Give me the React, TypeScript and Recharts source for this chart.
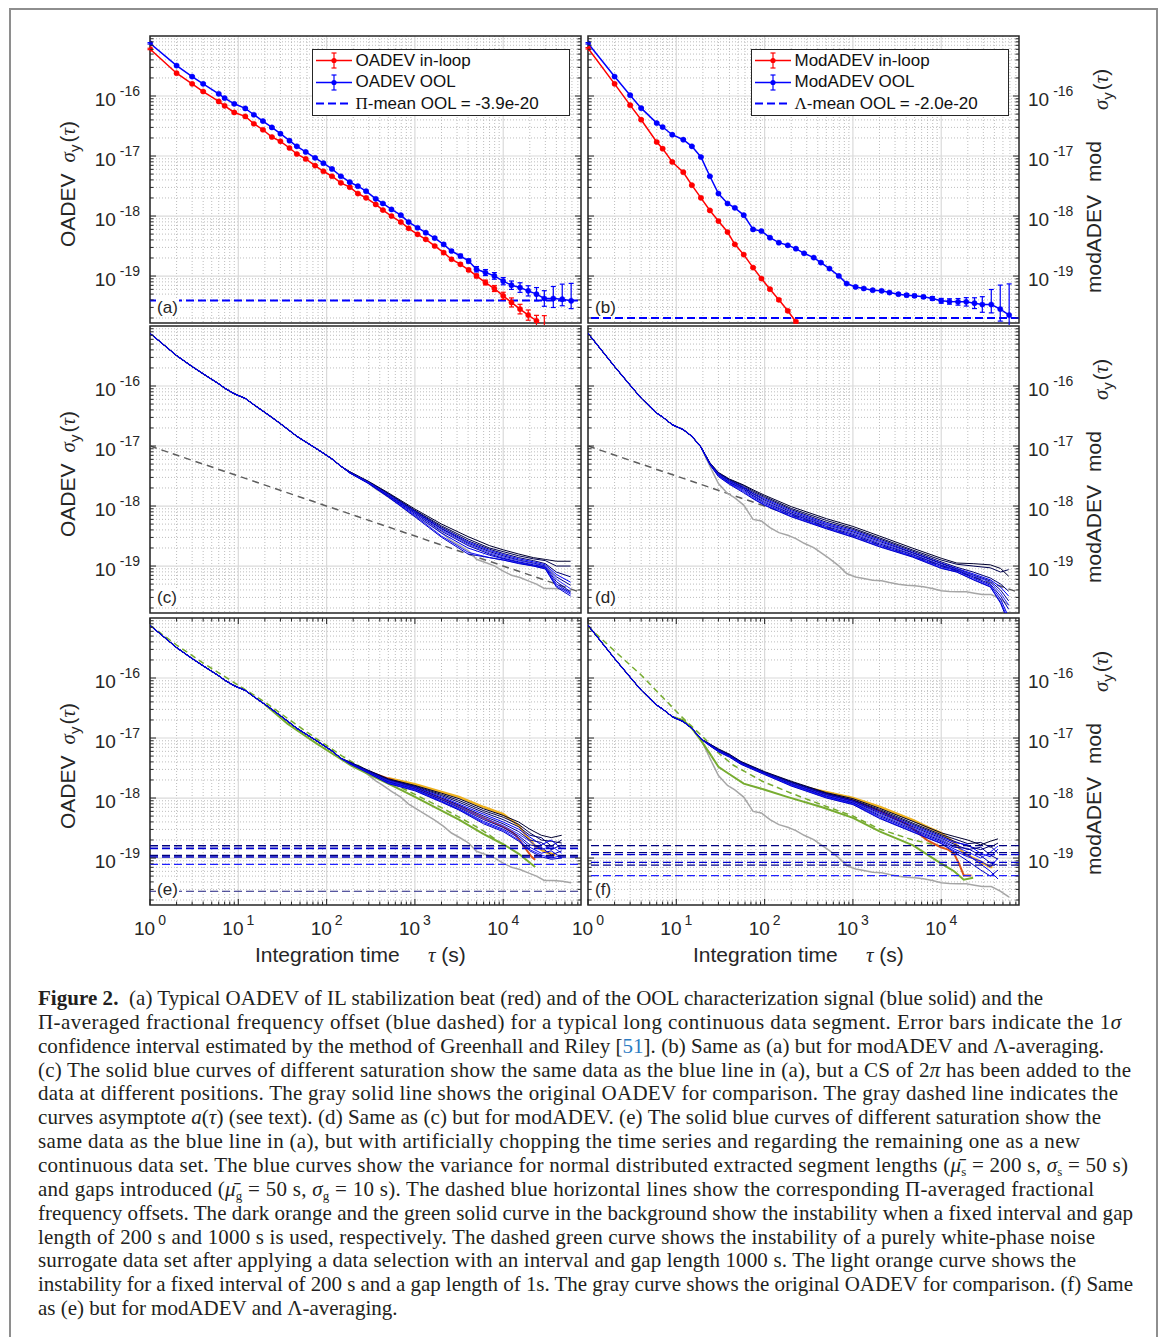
import React from "react";
import { LineChart, Line, XAxis, YAxis, CartesianGrid, ReferenceLine, ReferenceArea, ErrorBar } from "recharts";

const SANS = '"Liberation Sans", Arial, Helvetica, sans-serif';
const SERIF = '"Liberation Serif", "Times New Roman", serif';
const AX = "#262626";

// layout of the six axes boxes (page px)
const COL_X = [150, 588];
const ROW_Y = [36, 326, 618];
const PLOT_W = 431;
const PLOT_H = 287;

// axis ranges and ticks
const X_MIN = 1;
const X_MAX = 76000;
const Y_MIN = 1.65e-20;
const Y_MAX = 1e-15;
const MAJOR_X = [1, 10, 100, 1000, 10000];
const MAJOR_Y = [1e-19, 1e-18, 1e-17, 1e-16];
const MINOR_STEPS = [2, 3, 4, 5, 6, 7, 8, 9];
const DECADES_X = [1, 10, 100, 1000, 10000];
const DECADES_Y = [1e-20, 1e-19, 1e-18, 1e-17, 1e-16];
const MINOR_X = DECADES_X.flatMap((d) => MINOR_STEPS.map((m) => m * d)).filter((v) => v < X_MAX);
const MINOR_Y = DECADES_Y.flatMap((d) => MINOR_STEPS.map((m) => m * d)).filter((v) => v > Y_MIN);
const X_TICKS = [...MAJOR_X, ...MINOR_X].sort((a, b) => a - b);
const Y_TICKS = [...MAJOR_Y, ...MINOR_Y].sort((a, b) => a - b);

// ---- data (tau in s, sigma stored as log10) ----
const tauMarked = [1, 2, 3, 4, 6, 7, 9, 12, 15, 19, 24, 30, 38, 46, 58, 74, 92, 115, 145, 183, 226, 280, 360, 434, 543, 692, 849, 1072, 1327, 1675, 2115, 2595, 3275, 4057, 4980, 6290, 7940, 10000, 12400, 15500, 19200, 23800, 29200, 36900, 46600, 58800];

// (a) OADEV
const oadevOolExp = [-15.122, -15.493, -15.676, -15.797, -15.963, -16.035, -16.13, -16.207, -16.312, -16.417, -16.523, -16.628, -16.744, -16.838, -16.932, -17.03, -17.12, -17.215, -17.337, -17.436, -17.503, -17.586, -17.713, -17.791, -17.89, -17.985, -18.1, -18.195, -18.278, -18.367, -18.472, -18.583, -18.666, -18.749, -18.887, -18.942, -18.998, -19.086, -19.153, -19.192, -19.247, -19.302, -19.374, -19.374, -19.385, -19.413];
const oadevOolUp = [0.012, 0.012, 0.012, 0.012, 0.012, 0.012, 0.012, 0.012, 0.012, 0.012, 0.012, 0.012, 0.012, 0.012, 0.012, 0.012, 0.012, 0.012, 0.012, 0.012, 0.012, 0.012, 0.012, 0.012, 0.012, 0.012, 0.015, 0.015, 0.015, 0.015, 0.02, 0.02, 0.03, 0.035, 0.045, 0.05, 0.055, 0.06, 0.07, 0.08, 0.085, 0.11, 0.13, 0.2, 0.25, 0.29];
const oadevOolDn = [0.012, 0.012, 0.012, 0.012, 0.012, 0.012, 0.012, 0.012, 0.012, 0.012, 0.012, 0.012, 0.012, 0.012, 0.012, 0.012, 0.012, 0.012, 0.012, 0.012, 0.012, 0.012, 0.012, 0.012, 0.012, 0.012, 0.015, 0.015, 0.015, 0.015, 0.02, 0.02, 0.03, 0.035, 0.045, 0.05, 0.055, 0.06, 0.07, 0.08, 0.085, 0.11, 0.13, 0.15, 0.11, 0.13];
const oadevIlExp = [-15.216, -15.62, -15.797, -15.925, -16.091, -16.163, -16.274, -16.34, -16.462, -16.562, -16.683, -16.755, -16.866, -16.966, -17.049, -17.16, -17.254, -17.337, -17.447, -17.519, -17.625, -17.697, -17.807, -17.901, -18.0, -18.1, -18.205, -18.305, -18.388, -18.499, -18.61, -18.72, -18.804, -18.898, -18.998, -19.108, -19.208, -19.33, -19.44, -19.551, -19.651, -19.745, -19.85];
const oadevIlErr = [0.012, 0.012, 0.012, 0.012, 0.012, 0.012, 0.012, 0.012, 0.012, 0.012, 0.012, 0.012, 0.012, 0.012, 0.012, 0.012, 0.012, 0.012, 0.012, 0.012, 0.012, 0.012, 0.012, 0.012, 0.012, 0.015, 0.015, 0.015, 0.015, 0.015, 0.02, 0.02, 0.02, 0.025, 0.03, 0.04, 0.05, 0.06, 0.075, 0.08, 0.085, 0.09, 0.19];
const piMeanOol = 3.9e-20;

// (b) modADEV
const modOolExp = [-15.122, -15.676, -15.986, -16.202, -16.451, -16.517, -16.645, -16.728, -16.838, -17.016, -17.337, -17.625, -17.791, -17.863, -17.985, -18.223, -18.25, -18.361, -18.444, -18.488, -18.544, -18.621, -18.693, -18.776, -18.876, -18.998, -19.125, -19.181, -19.208, -19.236, -19.247, -19.275, -19.302, -19.319, -19.33, -19.347, -19.374, -19.413, -19.424, -19.43, -19.43, -19.452, -19.474, -19.474, -19.551, -19.651];
const modOolUp = [0.012, 0.012, 0.012, 0.012, 0.012, 0.012, 0.012, 0.012, 0.012, 0.012, 0.012, 0.012, 0.012, 0.012, 0.012, 0.012, 0.012, 0.012, 0.012, 0.012, 0.012, 0.012, 0.012, 0.012, 0.012, 0.012, 0.012, 0.018, 0.018, 0.018, 0.018, 0.018, 0.018, 0.025, 0.025, 0.025, 0.03, 0.04, 0.045, 0.055, 0.07, 0.09, 0.13, 0.25, 0.4, 0.52];
const modOolDn = [0.012, 0.012, 0.012, 0.012, 0.012, 0.012, 0.012, 0.012, 0.012, 0.012, 0.012, 0.012, 0.012, 0.012, 0.012, 0.012, 0.012, 0.012, 0.012, 0.012, 0.012, 0.012, 0.012, 0.012, 0.012, 0.012, 0.012, 0.018, 0.018, 0.018, 0.018, 0.018, 0.018, 0.025, 0.025, 0.025, 0.03, 0.04, 0.045, 0.055, 0.07, 0.09, 0.13, 0.14, 0.2, 0.3];
const modIlExp = [-15.205, -15.797, -16.152, -16.395, -16.766, -16.877, -17.099, -17.27, -17.486, -17.697, -17.907, -18.084, -18.267, -18.472, -18.643, -18.859, -19.042, -19.219, -19.396, -19.579, -19.762];
const modIlErr = [0.012, 0.012, 0.012, 0.012, 0.012, 0.012, 0.012, 0.012, 0.012, 0.012, 0.012, 0.012, 0.012, 0.012, 0.012, 0.012, 0.015, 0.015, 0.02, 0.02, 0.025];
const lambdaMeanOol = 2.0e-20;

// gray dashed asymptote a(tau) in (c) and (d)
const asymTau = [1, 76000];
const asymExp = [-17, -19.44];

// (c) OADEV with 2pi cycle slips, tails after the shared start
const tailTauC = [183, 300, 500, 1000, 2000, 4000, 7000, 10000, 15000, 22000, 30000, 40000, 58000];
const bundleCExp = [
  [-17.43, -17.59, -17.78, -18.05, -18.30, -18.51, -18.66, -18.73, -18.80, -18.86, -18.89, -18.92, -18.92],
  [-17.43, -17.60, -17.79, -18.07, -18.33, -18.55, -18.70, -18.76, -18.83, -18.88, -18.91, -19.00, -19.00],
  [-17.43, -17.60, -17.80, -18.08, -18.35, -18.58, -18.72, -18.79, -18.86, -18.91, -18.96, -19.10, -19.18],
  [-17.44, -17.61, -17.81, -18.09, -18.37, -18.60, -18.74, -18.81, -18.88, -18.93, -18.98, -19.14, -19.27],
  [-17.44, -17.61, -17.82, -18.10, -18.38, -18.62, -18.76, -18.83, -18.90, -18.95, -19.00, -19.18, -19.32],
  [-17.44, -17.61, -17.82, -18.11, -18.40, -18.64, -18.78, -18.85, -18.91, -18.96, -19.01, -19.22, -19.38],
  [-17.44, -17.62, -17.83, -18.12, -18.42, -18.66, -18.80, -18.87, -18.93, -18.98, -19.02, -19.26, -19.43],
  [-17.45, -17.62, -17.84, -18.14, -18.45, -18.70, -18.82, -18.88, -18.94, -18.99, -19.03, -19.30, -19.45],
  [-17.45, -17.62, -17.85, -18.16, -18.50, -18.77, -18.86, -18.90, -18.95, -19.00, -19.04, -19.33, -19.47],
  [-17.45, -17.63, -17.85, -18.18, -18.52, -18.80, -18.86, -18.90, -18.96, -19.00, -19.05, -19.35, -19.50],
];

// (d) modADEV with cycle slips
const tailTauD = [24, 30, 40, 58, 74, 100, 200, 500, 1000, 2000, 4700, 10000, 15000, 23000, 36000, 47000, 58000];
const bundleDExp = [
  [-17.28, -17.44, -17.55, -17.65, -17.73, -17.82, -18.01, -18.21, -18.34, -18.50, -18.70, -18.87, -18.95, -18.96, -18.98, -19.04, -19.17],
  [-17.28, -17.45, -17.56, -17.66, -17.75, -17.84, -18.04, -18.24, -18.37, -18.53, -18.73, -18.90, -18.97, -19.00, -19.03, -19.10, -19.06],
  [-17.29, -17.45, -17.57, -17.68, -17.77, -17.86, -18.06, -18.27, -18.39, -18.55, -18.75, -18.93, -19.02, -19.10, -19.20, -19.30, -19.42],
  [-17.29, -17.46, -17.58, -17.69, -17.79, -17.88, -18.08, -18.29, -18.41, -18.57, -18.77, -18.95, -19.04, -19.13, -19.23, -19.35, -19.50],
  [-17.29, -17.46, -17.59, -17.70, -17.80, -17.90, -18.10, -18.31, -18.43, -18.59, -18.78, -18.96, -19.05, -19.15, -19.25, -19.40, -19.58],
  [-17.30, -17.47, -17.60, -17.71, -17.82, -17.92, -18.12, -18.32, -18.45, -18.61, -18.80, -18.98, -19.06, -19.16, -19.27, -19.45, -19.65],
  [-17.30, -17.48, -17.61, -17.72, -17.83, -17.94, -18.13, -18.34, -18.47, -18.63, -18.81, -18.99, -19.07, -19.18, -19.30, -19.50, -19.72],
  [-17.30, -17.49, -17.62, -17.74, -17.85, -17.96, -18.15, -18.36, -18.49, -18.65, -18.83, -19.01, -19.08, -19.20, -19.32, -19.55, -19.85],
  [-17.31, -17.50, -17.63, -17.76, -17.87, -17.98, -18.17, -18.37, -18.51, -18.67, -18.84, -19.03, -19.10, -19.22, -19.34, -19.60, -19.90],
  [-17.31, -17.51, -17.64, -17.78, -17.88, -17.99, -18.18, -18.38, -18.52, -18.68, -18.85, -19.04, -19.10, -19.23, -19.35, -19.62, -19.95],
];

// (e) OADEV, chopped time series
const tailTauE = [183, 300, 500, 1000, 2000, 3150, 6000, 10000, 15000, 20000, 27000, 35000, 46000];
const bundleEExp = [
  [-17.40, -17.54, -17.68, -17.79, -17.92, -18.01, -18.18, -18.29, -18.40, -18.52, -18.62, -18.66, -18.62],
  [-17.40, -17.55, -17.69, -17.80, -17.94, -18.04, -18.21, -18.32, -18.44, -18.58, -18.70, -18.72, -18.75],
  [-17.41, -17.55, -17.70, -17.81, -17.96, -18.07, -18.24, -18.36, -18.48, -18.62, -18.66, -18.80, -18.70],
  [-17.41, -17.56, -17.71, -17.82, -17.98, -18.10, -18.27, -18.40, -18.52, -18.65, -18.78, -18.70, -18.85],
  [-17.41, -17.56, -17.72, -17.83, -18.00, -18.12, -18.30, -18.43, -18.56, -18.70, -18.74, -18.86, -18.78],
  [-17.42, -17.57, -17.72, -17.84, -18.02, -18.14, -18.33, -18.46, -18.60, -18.72, -18.86, -18.80, -18.92],
  [-17.42, -17.57, -17.73, -17.85, -18.03, -18.16, -18.36, -18.49, -18.63, -18.78, -18.82, -18.95, -18.88],
  [-17.42, -17.58, -17.74, -17.86, -18.05, -18.18, -18.39, -18.52, -18.66, -18.82, -18.92, -18.88, -19.00],
  [-17.43, -17.58, -17.75, -17.87, -18.06, -18.19, -18.41, -18.54, -18.70, -18.86, -18.95, -19.00, -18.96],
  [-17.43, -17.59, -17.76, -17.88, -18.07, -18.20, -18.43, -18.56, -18.72, -18.88, -18.98, -19.02, -19.00],
];
const orangeETau = [500, 1000, 2000, 3150, 6000, 10000, 15000, 18000, 23000, 30000, 39000];
const orangeEExp = [-17.67, -17.77, -17.90, -17.98, -18.15, -18.27, -18.46, -18.62, -18.80, -18.90, -18.95];
const darkOrangeETau = [300, 1000, 3000, 6000, 10000, 13000, 15000, 18000, 21000, 23000];
const darkOrangeEExp = [-17.56, -17.83, -18.12, -18.33, -18.48, -18.58, -18.68, -18.85, -18.98, -19.03];
const greenETau = [20, 36, 75, 190, 335, 585, 1000, 1950, 3150, 6000, 10000, 15000, 23000];
const greenEExp = [-16.44, -16.76, -17.08, -17.46, -17.64, -17.81, -17.98, -18.20, -18.36, -18.60, -18.77, -18.93, -19.15];
const greenDashETau = [1, 2, 4, 10, 20, 40, 75, 150, 300, 600, 1000, 2000, 4000, 6000, 8000];
const greenDashEExp = [-15.12, -15.45, -15.75, -16.12, -16.40, -16.72, -17.00, -17.30, -17.56, -17.78, -17.94, -18.16, -18.40, -18.55, -18.68];
const piLevelsE = [1.6e-19, 1.45e-19, 1.1e-19, 1.04e-19, 7.85e-20, 2.8e-20];

// (f) modADEV, chopped time series
const tailTauF = [24, 30, 40, 54, 100, 200, 500, 1000, 2000, 4800, 10000, 14000, 20000, 28000, 36000, 44000];
const bundleFExp = [
  [-17.10, -17.18, -17.27, -17.39, -17.56, -17.72, -17.91, -18.01, -18.17, -18.39, -18.58, -18.64, -18.70, -18.78, -18.72, -18.68],
  [-17.10, -17.19, -17.28, -17.40, -17.57, -17.73, -17.92, -18.03, -18.19, -18.42, -18.61, -18.68, -18.76, -18.74, -18.82, -18.75],
  [-17.11, -17.19, -17.28, -17.40, -17.57, -17.74, -17.93, -18.04, -18.21, -18.44, -18.63, -18.72, -18.80, -18.86, -18.80, -18.92],
  [-17.11, -17.20, -17.29, -17.41, -17.58, -17.75, -17.94, -18.05, -18.23, -18.46, -18.65, -18.74, -18.78, -18.92, -18.98, -18.85],
  [-17.11, -17.20, -17.29, -17.41, -17.58, -17.75, -17.95, -18.06, -18.25, -18.48, -18.67, -18.77, -18.86, -18.82, -18.95, -19.02],
  [-17.12, -17.21, -17.30, -17.42, -17.59, -17.76, -17.96, -18.07, -18.27, -18.50, -18.69, -18.80, -18.90, -19.00, -18.90, -18.80],
  [-17.12, -17.21, -17.30, -17.42, -17.59, -17.77, -17.97, -18.08, -18.29, -18.52, -18.71, -18.82, -18.84, -18.96, -19.08, -19.12],
  [-17.12, -17.22, -17.31, -17.43, -17.60, -17.78, -17.98, -18.09, -18.31, -18.54, -18.73, -18.85, -18.95, -19.10, -19.22, -19.35],
  [-17.13, -17.22, -17.31, -17.43, -17.60, -17.79, -17.99, -18.10, -18.33, -18.56, -18.75, -18.88, -18.98, -19.05, -19.15, -19.00],
  [-17.13, -17.23, -17.32, -17.44, -17.61, -17.80, -18.00, -18.11, -18.34, -18.57, -18.76, -18.90, -19.05, -19.20, -19.30, -19.20],
];
const orangeFTau = [300, 1000, 2030, 4800, 6900, 9900, 14000, 18000, 26000, 36000, 38000];
const orangeFExp = [-17.83, -18.0, -18.15, -18.37, -18.48, -18.58, -18.74, -18.92, -19.04, -19.15, -19.15];
const darkOrangeFTau = [300, 1000, 2030, 4000, 4800, 6900, 9900, 12000, 14000, 16000, 18000, 22000];
const darkOrangeFExp = [-17.85, -18.04, -18.22, -18.43, -18.51, -18.70, -18.82, -18.86, -18.93, -19.10, -19.29, -19.29];
const greenFTau = [9, 12, 15, 19, 24, 30, 37, 58, 90, 180, 440, 1000, 2030, 4800, 9900, 14000, 18000, 23000];
const greenFExp = [-16.645, -16.70, -16.84, -17.04, -17.26, -17.48, -17.57, -17.76, -17.84, -17.98, -18.15, -18.33, -18.56, -18.79, -19.09, -19.22, -19.36, -19.33];
const greenDashFTau = [1, 2, 4, 7, 11, 20, 30, 44, 94, 200, 500, 1000, 2030, 4800, 9800];
const greenDashFExp = [-15.14, -15.55, -15.95, -16.32, -16.62, -16.98, -17.25, -17.45, -17.72, -17.92, -18.14, -18.30, -18.52, -18.70, -18.80];
const lambdaLevelsF = [1.61e-19, 1.23e-19, 1.14e-19, 8.5e-20, 7.6e-20, 5.1e-20];

const BUNDLE_COLORS = ["#00002e", "#000050", "#00006e", "#0000ff", "#00008c", "#2a2aff", "#0000a8", "#0000e6", "#1414ff", "#0000c8"];
const LEVEL_COLORS = ["#000080", "#0000d0", "#000080", "#0000c0", "#2020ff", "#202080"];
const LEVEL_COLORS_F = ["#000080", "#000080", "#0000d0", "#0000d0", "#000090", "#2020ff"];
const RED = "#ff0000";
const BLUE = "#0000ff";
const GRAY = "#a6a6a6";
const GRAY_DASH = "#5e5e5e";
const ORANGE = "#edb120";
const DARK_ORANGE = "#d95319";
const GREEN = "#77ac30";

type Row = { t: number; v: number; err?: number[] };

const rowsOf = (taus: number[], exps: number[]): Row[] => exps.map((e, i) => ({ t: taus[i], v: 10 ** e }));
const markedRows = (taus: number[], exps: number[], up: number[], dn: number[]): Row[] =>
  exps.map((e, i) => {
    const v = 10 ** e;
    return { t: taus[i], v, err: [v - 10 ** (e - dn[i]), 10 ** (e + up[i]) - v] };
  });
const joined = (headN: number, headExp: number[], tailT: number[], tailE: number[]): Row[] => [
  ...rowsOf(tauMarked.slice(0, headN), headExp.slice(0, headN)),
  ...rowsOf(tailT, tailE),
];

const plain = (key: string, data: Row[], color: string, width = 1, dash?: string) => (
  <Line key={key} data={data} dataKey="v" type="linear" stroke={color} strokeWidth={width} strokeDasharray={dash} dot={false} activeDot={false} isAnimationActive={false} />
);

const marked = (key: string, data: Row[], color: string) => (
  <Line key={key} data={data} dataKey="v" type="linear" stroke={color} strokeWidth={1.5} dot={{ r: 2.6, fill: color, stroke: color, strokeWidth: 0.5 }} activeDot={false} isAnimationActive={false}>
    <ErrorBar dataKey="err" width={2.5} strokeWidth={1.2} stroke={color} direction="y" />
  </Line>
);

const level = (key: string, y: number, color: string, width = 1.5) => (
  <ReferenceLine key={key} y={y} stroke={color} strokeWidth={width} strokeDasharray="8 4" />
);

const expLabel = (v: number) => String(Math.round(Math.log10(v)));

const xTick = (pt: number, pb: number, labels: boolean) => (props: any) => {
  const { x, payload } = props;
  const v = payload.value as number;
  const major = MAJOR_X.includes(v);
  const len = major ? 6 : 3.5;
  return (
    <g>
      <line x1={x} x2={x} y1={pb} y2={pb - len} stroke={AX} strokeWidth={1} />
      <line x1={x} x2={x} y1={pt} y2={pt + len} stroke={AX} strokeWidth={1} />
      {labels && major && (
        <text x={x} y={pb + 30} textAnchor="middle" fill={AX} fontFamily={SANS} fontSize={19}>
          10
          <tspan dx={3} dy={-10} fontSize={14}>
            {expLabel(v)}
          </tspan>
        </text>
      )}
    </g>
  );
};

const yTick = (pl: number, pr: number, col: number) => (props: any) => {
  const { y, payload } = props;
  const v = payload.value as number;
  const major = MAJOR_Y.includes(v);
  const len = major ? 6 : 3.5;
  return (
    <g>
      <line x1={pl} x2={pl + len} y1={y} y2={y} stroke={AX} strokeWidth={1} />
      <line x1={pr} x2={pr - len} y1={y} y2={y} stroke={AX} strokeWidth={1} />
      {major && (
        <text
          x={col === 0 ? pl - 10 : pr + 9}
          y={y + 9.5}
          textAnchor={col === 0 ? "end" : "start"}
          fill={AX}
          fontFamily={SANS}
          fontSize={19}
        >
          10
          <tspan dx={4} dy={-10} fontSize={14}>
            {expLabel(v)}
          </tspan>
        </text>
      )}
    </g>
  );
};

function Panel({ col, row, letter, children }: { col: number; row: number; letter: string; children: React.ReactNode }) {
  const M = 2;
  const AXW = 72;
  const ML = col === 0 ? M : 24;
  const xh = row === 2 ? 50 : 0;
  const pl = col === 0 ? ML + AXW : ML;
  const pr = pl + PLOT_W;
  const pt = M;
  const pb = M + PLOT_H;
  return (
    <div style={{ position: "absolute", left: COL_X[col] - pl, top: ROW_Y[row] - M }}>
      <LineChart width={PLOT_W + AXW + ML + M} height={PLOT_H + xh + 2 * M} margin={{ top: M, right: M, bottom: M, left: ML }}>
        <CartesianGrid verticalValues={MINOR_X} horizontalValues={MINOR_Y} stroke="#bdbdbd" strokeDasharray="1 2" />
        <CartesianGrid verticalValues={MAJOR_X} horizontalValues={MAJOR_Y} stroke="#dadada" strokeWidth={1.2} />
        <XAxis
          dataKey="t"
          type="number"
          scale="log"
          domain={[X_MIN, X_MAX]}
          allowDataOverflow
          ticks={X_TICKS}
          interval={0}
          height={xh}
          axisLine={false}
          tickLine={false}
          tick={xTick(pt, pb, row === 2)}
        />
        <YAxis
          type="number"
          scale="log"
          domain={[Y_MIN, Y_MAX]}
          allowDataOverflow
          ticks={Y_TICKS}
          interval={0}
          width={AXW}
          orientation={col === 0 ? "left" : "right"}
          axisLine={false}
          tickLine={false}
          tick={yTick(pl, pr, col)}
        />
        {children}
        <ReferenceArea x1={X_MIN} x2={X_MAX} y1={Y_MIN} y2={Y_MAX} fill="none" fillOpacity={0} stroke={AX} strokeWidth={1.5} ifOverflow="visible" />
      </LineChart>
      <div
        style={{
          position: "absolute",
          left: pl + 6,
          top: pb - 24,
          fontFamily: SANS,
          fontSize: 17,
          lineHeight: "18px",
          color: AX,
          background: "#fff",
          padding: "0 1px",
        }}
      >
        ({letter})
      </div>
    </div>
  );
}

function LegendIcon({ color, dashed }: { color: string; dashed?: boolean }) {
  return (
    <svg width={36} height={21} style={{ display: "block" }}>
      {dashed ? (
        <line x1={0} x2={36} y1={10.5} y2={10.5} stroke={color} strokeWidth={2} strokeDasharray="8 4" />
      ) : (
        <g>
          <line x1={0} x2={36} y1={10.5} y2={10.5} stroke={color} strokeWidth={1.5} />
          <line x1={18} x2={18} y1={3} y2={18} stroke={color} strokeWidth={1.2} />
          <line x1={15.5} x2={20.5} y1={3} y2={3} stroke={color} strokeWidth={1.2} />
          <line x1={15.5} x2={20.5} y1={18} y2={18} stroke={color} strokeWidth={1.2} />
          <circle cx={18} cy={10.5} r={2.6} fill={color} />
        </g>
      )}
    </svg>
  );
}

function LegendBox({ left, items }: { left: number; items: { color: string; dashed?: boolean; label: React.ReactNode }[] }) {
  return (
    <div
      style={{
        position: "absolute",
        left,
        top: 49,
        width: 258,
        height: 67,
        boxSizing: "border-box",
        border: `1.5px solid ${AX}`,
        background: "#fff",
      }}
    >
      {items.map((it, i) => (
        <div key={i} style={{ position: "absolute", left: 2.5, top: 21.5 * i, height: 21, display: "flex", alignItems: "center" }}>
          <LegendIcon color={it.color} dashed={it.dashed} />
          <span style={{ marginLeft: 4, fontFamily: SANS, fontSize: 17, color: "#111", whiteSpace: "pre" }}>{it.label}</span>
        </div>
      ))}
    </div>
  );
}

type Seg = { t: string; b?: boolean; i?: boolean; sub?: boolean; c?: string };
const CAPTION: { segs: Seg[]; end?: number }[] = [
  { end: 1043, segs: [{ t: "Figure 2.", b: true }, { t: "  (a) Typical OADEV of IL stabilization beat (red) and of the OOL characterization signal (blue solid) and the" }] },
  { end: 1121, segs: [{ t: "Π-averaged fractional frequency offset (blue dashed) for a typical long continuous data segment. Error bars indicate the 1" }, { t: "σ", i: true }] },
  { end: 1104, segs: [{ t: "confidence interval estimated by the method of Greenhall and Riley [" }, { t: "51", c: "#2b7bc2" }, { t: "]. (b) Same as (a) but for modADEV and Λ-averaging." }] },
  { end: 1131, segs: [{ t: "(c) The solid blue curves of different saturation show the same data as the blue line in (a), but a CS of 2" }, { t: "π", i: true }, { t: " has been added to the" }] },
  { end: 1118, segs: [{ t: "data at different positions. The gray solid line shows the original OADEV for comparison. The gray dashed line indicates the" }] },
  { end: 1101, segs: [{ t: "curves asymptote " }, { t: "a", i: true }, { t: "(" }, { t: "τ", i: true }, { t: ") (see text). (d) Same as (c) but for modADEV. (e) The solid blue curves of different saturation show the" }] },
  { end: 1080, segs: [{ t: "same data as the blue line in (a), but with artificially chopping the time series and regarding the remaining one as a new" }] },
  { end: 1128, segs: [{ t: "continuous data set. The blue curves show the variance for normal distributed extracted segment lengths (" }, { t: "μ̄", i: true }, { t: "s", sub: true }, { t: " = 200 s, " }, { t: "σ", i: true }, { t: "s", sub: true }, { t: " = 50 s)" }] },
  { end: 1094, segs: [{ t: "and gaps introduced (" }, { t: "μ̄", i: true }, { t: "g", sub: true }, { t: " = 50 s, " }, { t: "σ", i: true }, { t: "g", sub: true }, { t: " = 10 s). The dashed blue horizontal lines show the corresponding Π-averaged fractional" }] },
  { end: 1133, segs: [{ t: "frequency offsets. The dark orange and the green solid curve in the background show the instability when a fixed interval and gap" }] },
  { end: 1095, segs: [{ t: "length of 200 s and 1000 s is used, respectively. The dashed green curve shows the instability of a purely white-phase noise" }] },
  { end: 1076, segs: [{ t: "surrogate data set after applying a data selection with an interval and gap length 1000 s. The light orange curve shows the" }] },
  { end: 1133, segs: [{ t: "instability for a fixed interval of 200 s and a gap length of 1s. The gray curve shows the original OADEV for comparison. (f) Same" }] },
  { segs: [{ t: "as (e) but for modADEV and Λ-averaging." }] },
];

export default function App() {
  const oolA = markedRows(tauMarked, oadevOolExp, oadevOolUp, oadevOolDn);
  const ilA = markedRows(tauMarked, oadevIlExp, oadevIlErr, oadevIlErr);
  const oolB = markedRows(tauMarked, modOolExp, modOolUp, modOolDn);
  const ilB = markedRows(tauMarked, modIlExp, modIlErr, modIlErr);
  const grayA = rowsOf(tauMarked, oadevOolExp);
  const grayB = rowsOf(tauMarked, modOolExp);
  const asym = rowsOf(asymTau, asymExp);

  return (
    <div style={{ position: "absolute", left: 0, top: 0, width: 1167, height: 1337, background: "#fff", overflow: "hidden" }}>
      <div style={{ position: "absolute", left: 9, top: 8, width: 1149, height: 1400, boxSizing: "border-box", border: "2px solid #8e8e8e" }} />

      <Panel col={0} row={0} letter="a">
        {[level("pi", piMeanOol, BLUE, 2), marked("il", ilA, RED), marked("ool", oolA, BLUE)]}
      </Panel>
      <Panel col={1} row={0} letter="b">
        {[level("lam", lambdaMeanOol, BLUE, 2), marked("il", ilB, RED), marked("ool", oolB, BLUE)]}
      </Panel>
      <Panel col={0} row={1} letter="c">
        {[
          plain("asym", asym, GRAY_DASH, 1.5, "7 5"),
          plain("gray", grayA, GRAY, 1.5),
          ...bundleCExp.map((e, i) => plain(`c${i}`, joined(19, oadevOolExp, tailTauC, e), BUNDLE_COLORS[i], 1)),
        ]}
      </Panel>
      <Panel col={1} row={1} letter="d">
        {[
          plain("asym", asym, GRAY_DASH, 1.5, "7 5"),
          plain("gray", grayB, GRAY, 1.5),
          ...bundleDExp.map((e, i) => plain(`d${i}`, joined(10, modOolExp, tailTauD, e), BUNDLE_COLORS[i], 1)),
        ]}
      </Panel>
      <Panel col={0} row={2} letter="e">
        {[
          plain("gray", grayA, GRAY, 1.5),
          plain("gdash", rowsOf(greenDashETau, greenDashEExp), GREEN, 1.5, "6 4"),
          plain("or", rowsOf(orangeETau, orangeEExp), ORANGE, 2.5),
          plain("dor", rowsOf(darkOrangeETau, darkOrangeEExp), DARK_ORANGE, 2),
          plain("gr", rowsOf(greenETau, greenEExp), GREEN, 2),
          ...bundleEExp.map((e, i) => plain(`e${i}`, joined(19, oadevOolExp, tailTauE, e), BUNDLE_COLORS[i], 1)),
          ...piLevelsE.map((v, i) => level(`pl${i}`, v, LEVEL_COLORS[i], i < 4 ? 1.6 : 1.1)),
        ]}
      </Panel>
      <Panel col={1} row={2} letter="f">
        {[
          plain("gray", grayB, GRAY, 1.5),
          plain("gdash", rowsOf(greenDashFTau, greenDashFExp), GREEN, 1.5, "6 4"),
          plain("or", rowsOf(orangeFTau, orangeFExp), ORANGE, 2.5),
          plain("dor", rowsOf(darkOrangeFTau, darkOrangeFExp), DARK_ORANGE, 2),
          plain("gr", rowsOf(greenFTau, greenFExp), GREEN, 2),
          ...bundleFExp.map((e, i) => plain(`f${i}`, joined(10, modOolExp, tailTauF, e), BUNDLE_COLORS[i], 1)),
          ...lambdaLevelsF.map((v, i) => level(`ll${i}`, v, LEVEL_COLORS_F[i], 1.3)),
        ]}
      </Panel>

      <LegendBox
        left={312}
        items={[
          { color: RED, label: "OADEV in-loop" },
          { color: BLUE, label: "OADEV OOL" },
          { color: BLUE, dashed: true, label: <><span style={{ fontFamily: SERIF }}>Π</span>-mean OOL = -3.9e-20</> },
        ]}
      />
      <LegendBox
        left={751}
        items={[
          { color: RED, label: "ModADEV in-loop" },
          { color: BLUE, label: "ModADEV OOL" },
          { color: BLUE, dashed: true, label: <><span style={{ fontFamily: SERIF }}>Λ</span>-mean OOL = -2.0e-20</> },
        ]}
      />

      <svg width={1167} height={1337} style={{ position: "absolute", left: 0, top: 0, pointerEvents: "none" }}>
        {ROW_Y.map((y0, r) => (
          <g key={r} fill={AX} fontFamily={SANS} fontSize={21}>
            <text transform={`translate(75, ${y0 + 211}) rotate(-90)`} style={{ whiteSpace: "pre" }}>
              OADEV
              <tspan dx={11} fontFamily={SERIF} fontStyle="italic">σ</tspan>
              <tspan dy={5} fontSize={15}>y</tspan>
              <tspan dy={-5} dx={2}>(</tspan>
              <tspan fontFamily={SERIF} fontStyle="italic">τ</tspan>
              <tspan>)</tspan>
            </text>
            <text transform={`translate(1101, ${y0 + 257}) rotate(-90)`} style={{ whiteSpace: "pre" }}>
              modADEV
              <tspan dx={13}>mod</tspan>
              <tspan dx={31} dy={7} fontFamily={SERIF} fontStyle="italic">σ</tspan>
              <tspan dy={5} fontSize={15}>y</tspan>
              <tspan dy={-5} dx={2}>(</tspan>
              <tspan fontFamily={SERIF} fontStyle="italic">τ</tspan>
              <tspan>)</tspan>
            </text>
          </g>
        ))}
        {[0, 438].map((dx, i) => (
          <g key={i} fill={AX} fontFamily={SANS} fontSize={21}>
            <text x={255 + dx} y={962}>Integration time</text>
            <text x={428 + dx} y={962}>
              <tspan fontFamily={SERIF} fontStyle="italic">τ</tspan> (s)
            </text>
          </g>
        ))}
        {CAPTION.map((ln, i) => {
          let lvl = 0;
          const fit = ln.end ? { textLength: ln.end - 38, lengthAdjust: "spacing" as const } : {};
          return (
            <text key={i} x={38} y={1005 + i * 23.85} fontFamily={SERIF} fontSize={21} fill="#231f20" style={{ whiteSpace: "pre" }} {...fit}>
              {ln.segs.map((s, j) => {
                const target = s.sub ? 4 : 0;
                const dy = target - lvl;
                lvl = target;
                return (
                  <tspan key={j} dy={dy || undefined} fontWeight={s.b ? "bold" : undefined} fontStyle={s.i ? "italic" : undefined} fontSize={s.sub ? 13 : undefined} fill={s.c}>
                    {s.t}
                  </tspan>
                );
              })}
            </text>
          );
        })}
      </svg>
    </div>
  );
}
